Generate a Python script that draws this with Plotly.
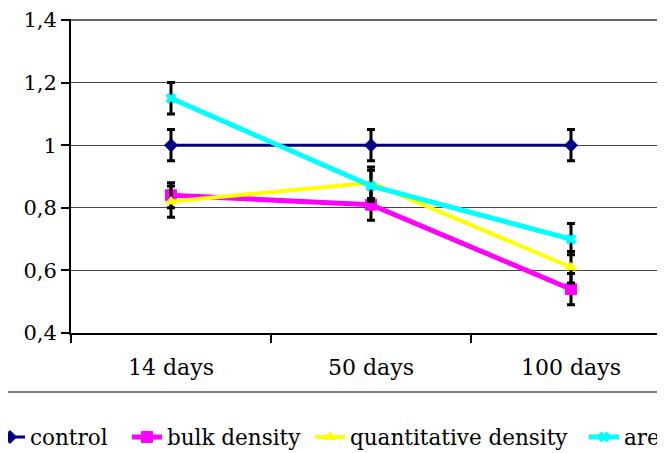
import plotly.graph_objects as go

categories = ["14 days", "50 days", "100 days"]
control = [1.0, 1.0, 1.0]
control_err = [0.05, 0.05, 0.05]
bulk_density = [0.84, 0.81, 0.54]
bulk_err = [0.04, 0.05, 0.05]
quantitative_density = [0.82, 0.88, 0.61]
quant_err = [0.05, 0.05, 0.05]
area = [1.15, 0.87, 0.70]
area_err = [0.05, 0.05, 0.05]
y_ticks = [0.4, 0.6, 0.8, 1.0, 1.2, 1.4]

W, H = 657, 445
L, T, B = 63, 11, 120
PW = W - L
PH = H - T - B  # 314 px; 1.0 of value range spans 313 px
y_min, y_max = 0.4, 0.4 + PH / 313

serif = "DejaVu Serif"

fig = go.Figure()

legend_text_x = [30, 167, 350, 624]  # window px of legend label starts

def add(i, name, y, err, color, symbol, lw, ms):
    lg = "legend" if i == 0 else f"legend{i+1}"
    fig.add_trace(go.Scatter(
        x=categories, y=y, name=name, mode="lines+markers",
        line=dict(color=color, width=lw),
        marker=dict(color=color, symbol=symbol, size=ms, line=dict(color=color, width=1)),
        error_y=dict(type="data", array=err, visible=True, color="black", thickness=3, width=4),
        legend=lg,
    ))

add(0, "control", control, control_err, "#000080", "diamond", 3, 10)
add(1, "bulk density", bulk_density, bulk_err, "#FF00FF", "square", 5, 11)
add(2, "quantitative density", quantitative_density, quant_err, "#FFFF00", "triangle-up", 4, 10)
add(3, "area", area, area_err, "#00FFFF", "x", 5, 9)

legends = {}
for i, tx in enumerate(legend_text_x):
    key = "legend" if i == 0 else f"legend{i+1}"
    legends[key] = dict(orientation="h", x=(tx - 40 - 8 - L) / PW, xanchor="left",
                        y=-(437 - 8 - (T + PH)) / PH, yanchor="middle", bgcolor="rgba(0,0,0,0)",
                        font=dict(family=serif, size=21.5, color="black"), itemwidth=30)

fig.update_layout(
    width=W, height=H,
    margin=dict(l=L, r=0, t=T, b=B, autoexpand=False),
    paper_bgcolor="white", plot_bgcolor="white",
    separators=", ",
    font=dict(family=serif, size=22, color="black"),
    showlegend=True,
    **legends,
)
fig.update_xaxes(
    type="category", range=[-0.5, -0.5 + PW / 200], tickson="boundaries",
    ticks="outside", ticklen=8, tickwidth=1.5, tickcolor="black",
    showline=True, linecolor="black", linewidth=2, showgrid=False,
    tickfont=dict(family=serif, size=22), ticklabelstandoff=14,
)
fig.update_yaxes(
    range=[y_min, y_max], tickmode="array", tickvals=y_ticks,
    ticks="outside", ticklen=8, tickwidth=1.5, tickcolor="black",
    showline=True, linecolor="black", linewidth=2,
    showgrid=True, gridcolor="#444444", gridwidth=1,
    tickfont=dict(family=serif, size=21), zeroline=False,
    ticklabeloverflow="allow",
)
# top gridline at the last tick (plotly drops gridlines at the plot edge)
y_top = (y_ticks[-1] - y_min) / (y_max - y_min)
fig.add_shape(type="line", xref="paper", yref="paper", layer="above",
              x0=0, x1=1.0, y0=y_top, y1=y_top,
              line=dict(color="#333333", width=1.5))
fig.add_shape(type="line", xref="paper", yref="paper",
              x0=-L / PW, x1=1.0, y0=-59 / PH, y1=-59 / PH,
              line=dict(color="#808080", width=2))

fig.write_html("out.html")
